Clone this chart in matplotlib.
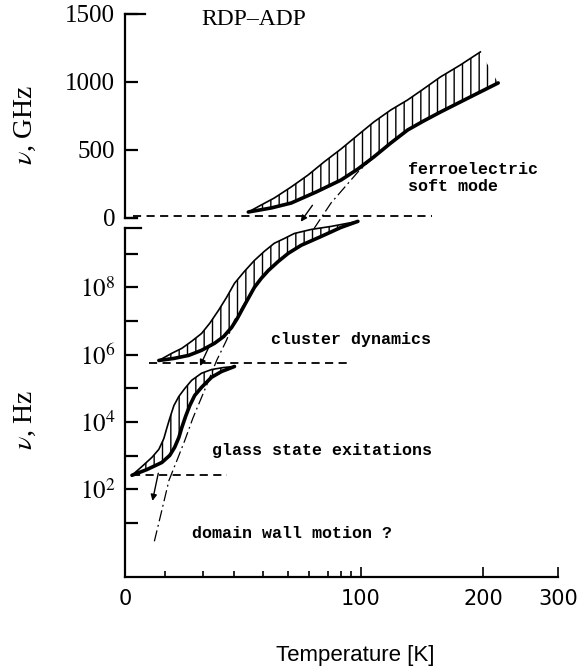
import matplotlib
matplotlib.use("Agg")
import numpy as np
import matplotlib.pyplot as plt
from matplotlib.scale import FuncScale

plt.rcParams["mathtext.fontset"] = "stix"
plt.rcParams["hatch.linewidth"] = 1.0

### temperature axis of the original is hand drawn: tick positions
axis_T = [0, 10, 20, 30, 40, 50, 60, 70, 80, 90, 100, 200, 300]
axis_pos = [123, 163, 201, 233, 262, 287, 308, 327, 340, 350, 360, 483, 558]

def t_fwd(t):
    return np.interp(t, axis_T, axis_pos)

def t_inv(p):
    return np.interp(p, axis_pos, axis_T)

# ferroelectric soft mode band, GHz
soft_up_T = [34.8, 39.3, 44.4, 51.4, 59.5, 67.9, 80, 97, 110.6, 124.4, 138.2, 151.2, 165, 181.3, 197.6]
soft_up = [44, 96, 147, 228, 316, 412, 507, 610, 706, 794, 868, 949, 1037, 1125, 1221]
soft_lo_T = [34.8, 43.2, 51.4, 63.7, 80, 97, 110.6, 124.4, 138.2, 151.2, 165, 189.4, 220]
soft_lo = [44, 74, 110, 191, 279, 360, 449, 551, 647, 713, 779, 890, 993]
soft_dd_T = [110.6, 97, 72.3, 62.1]
soft_dd = [449, 338, 110, -88]

# cluster dynamics band, log10(Hz)
clu_up_T = [8.5, 11.8, 14.5, 17.1, 19.7, 22.2, 25.0, 27.5, 30, 33.4, 36.9, 40.4, 44.4, 48.4, 52.9, 61.1, 72.3, 97]
clu_up = [5.83, 6.04, 6.19, 6.40, 6.63, 6.93, 7.32, 7.70, 8.12, 8.47, 8.80, 9.07, 9.31, 9.45, 9.60, 9.72, 9.81, 9.96]
clu_lo_T = [8.5, 12.4, 16.3, 19.7, 23.75, 26.6, 29.1, 31.0, 33.4, 36.9, 39.3, 42.0, 46.0, 50, 56.2, 66.3, 80, 97]
clu_lo = [5.83, 5.89, 5.98, 6.13, 6.34, 6.54, 6.81, 7.08, 7.46, 8.0, 8.27, 8.50, 8.77, 9.01, 9.25, 9.51, 9.78, 9.96]

# glass state band, log10(Hz)
gla_up_T = [1.75, 4.25, 6.75, 8.5, 9.75, 10.5, 11.3, 12.4, 13.7, 15.3, 17.1, 19.7, 22.8, 26.6, 30]
gla_up = [2.42, 2.68, 2.95, 3.19, 3.51, 3.81, 4.11, 4.49, 4.76, 5.00, 5.24, 5.45, 5.56, 5.62, 5.65]
gla_lo_T = [1.75, 5.5, 9.25, 11.3, 12.6, 13.7, 14.5, 15.5, 16.6, 17.9, 19.7, 22.8, 25.9, 30]
gla_lo = [2.42, 2.59, 2.80, 3.01, 3.25, 3.54, 3.84, 4.17, 4.49, 4.79, 5.03, 5.33, 5.50, 5.65]

# dash-dot extrapolation through the low frequency bands
low_dd_T = [34.1, 30, 27.5, 24.4, 21.9, 19.7, 17.4, 15.3, 13.2, 11.1, 9.25, 7.25]
low_dd = [7.61, 7.02, 6.43, 5.83, 5.24, 4.73, 4.11, 3.46, 2.86, 2.27, 1.38, 0.40]

# dashed horizontal levels: (T start, T end, value)
soft_level = (2, 158, 15)
clu_level = (6, 88, 5.74)
gla_level = (1.75, 27.5, 2.42)

fig = plt.figure(figsize=(5.85, 6.72), dpi=100)
ax1 = fig.add_axes([0.2137, 0.6756, 0.740, 0.3036])
ax2 = fig.add_axes([0.2137, 0.1414, 0.740, 0.5312])

for ax in (ax1, ax2):
    ax.set_xscale(FuncScale(ax, (t_fwd, t_inv)))
    ax.set_xlim(0, 300)
    ax.patch.set_alpha(0)
    ax.spines["right"].set_visible(False)
    ax.spines["left"].set_linewidth(1.6)

def band(ax, ut, u, lt, l):
    xs = np.concatenate([ut, lt[::-1]])
    ys = np.concatenate([u, l[::-1]])
    ax.fill(xs, ys, facecolor="none", edgecolor="black", linewidth=0, hatch="||", clip_on=False)
    ax.plot(ut, u, color="black", lw=1.2, clip_on=False, solid_joinstyle="round")
    ax.plot(lt, l, color="black", lw=2.6, clip_on=False, solid_capstyle="round", solid_joinstyle="round")

dash = (0, (4.5, 3))
dashdot = (0, (9, 3, 1.5, 3))
arrow = dict(arrowstyle="-|>", lw=1.0, color="black", mutation_scale=9)

### top panel: GHz
band(ax1, np.array(soft_up_T), np.array(soft_up), np.array(soft_lo_T), np.array(soft_lo))
ax1.plot(soft_dd_T, soft_dd, color="black", lw=0.9, ls=dashdot, clip_on=False)
ax1.plot(soft_level[:2], [soft_level[2]] * 2, color="black", lw=1.3, ls=dash, clip_on=False)
ax1.annotate("", xy=(55.2, -44), xytext=(62.6, 110), arrowprops=arrow, annotation_clip=False)
ax1.set_ylim(0, 1500)
ax1.set_yticks([0, 500, 1000, 1500])
ax1.set_yticklabels(["0", "500", "1000", "1500"], family="Liberation Serif", fontsize=18)
ax1.tick_params(axis="y", direction="in", length=9, width=1.6, pad=7)
ax1.tick_params(axis="x", bottom=False, labelbottom=False)
ax1.spines["bottom"].set_bounds(0, 3)
ax1.spines["top"].set_bounds(0, 5)
ax1.spines["bottom"].set_linewidth(1.6)
ax1.spines["top"].set_linewidth(1.6)
ax1.text(19.7, 1456, "RDP\u2013ADP", family="Liberation Serif", fontsize=17, va="center")
ax1.text(138.2, 294, "ferroelectric\nsoft mode", family="Liberation Mono", weight="bold",
         fontsize=12, va="center", linespacing=1.2)

### bottom panel: Hz, log
ax2.set_yscale("log")
band(ax2, np.array(clu_up_T), 10 ** np.array(clu_up), np.array(clu_lo_T), 10 ** np.array(clu_lo))
band(ax2, np.array(gla_up_T), 10 ** np.array(gla_up), np.array(gla_lo_T), 10 ** np.array(gla_lo))
ax2.plot(low_dd_T, 10 ** np.array(low_dd), color="black", lw=0.9, ls=dashdot)
for t0, t1, v in (clu_level, gla_level):
    ax2.plot([t0, t1], [10 ** v] * 2, color="black", lw=1.3, ls=dash)
ax2.annotate("", xy=(19.0, 10 ** 5.59), xytext=(22.2, 10 ** 6.28), arrowprops=arrow)
ax2.annotate("", xy=(6.75, 10 ** 1.58), xytext=(8.5, 10 ** 2.56), arrowprops=arrow)
ax2.set_ylim(10 ** -0.6, 10 ** 10)
ax2.spines["left"].set_bounds(10 ** -0.6, 10 ** 9.75)
ax2.spines["top"].set_position(("data", 10 ** 9.75))
ax2.spines["top"].set_bounds(0, 4)
ax2.spines["top"].set_linewidth(1.6)
ax2.spines["bottom"].set_linewidth(1.6)
ax2.set_yticks([10.0 ** k for k in range(1, 10)])
ax2.set_yticklabels(["" if k % 2 else r"$10^{%d}$" % k for k in range(1, 10)], fontsize=18)
ax2.yaxis.set_minor_locator(plt.NullLocator())
ax2.tick_params(axis="y", direction="in", length=9, width=1.6, pad=7)
ax2.set_xticks([0, 100, 200, 300])
ax2.set_xticklabels(["0", "100", "200", "300"], family="DejaVu Sans", fontsize=15)
ax2.set_xticks([10, 20, 30, 40, 50, 60, 70, 80, 90], minor=True)
ax2.tick_params(axis="x", which="major", direction="in", length=7, width=1.2, pad=9)
ax2.tick_params(axis="x", which="minor", direction="in", length=4, width=1.2)
ax2.text(43.2, 10 ** 6.45, "cluster dynamics", family="Liberation Mono", weight="bold", fontsize=12, va="center")
ax2.text(22.8, 10 ** 3.16, "glass state exitations", family="Liberation Mono", weight="bold", fontsize=12, va="center")
ax2.text(17.1, 10 ** 0.69, "domain wall motion ?", family="Liberation Mono", weight="bold", fontsize=12, va="center")

fig.text(0.043, 0.814, r"$\nu$, GHz", rotation=90, family="Liberation Serif", fontsize=20, ha="center", va="center")
fig.text(0.043, 0.375, r"$\nu$, Hz", rotation=90, family="Liberation Serif", fontsize=20, ha="center", va="center")
fig.text(0.607, 0.025, "Temperature [K]", family="Liberation Sans", fontsize=16, ha="center", va="center")

fig.savefig("out.png", dpi=100)
